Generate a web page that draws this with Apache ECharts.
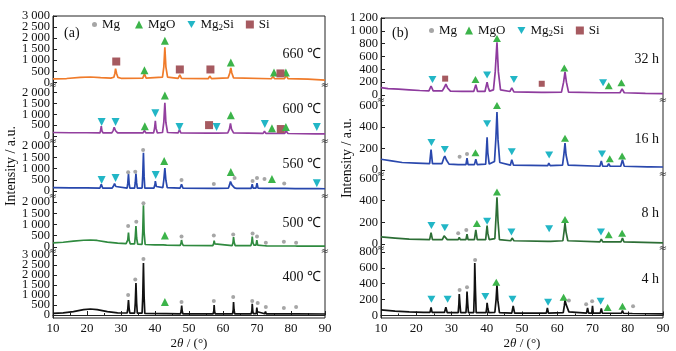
<!DOCTYPE html>
<html lang="en">
<head>
<meta charset="UTF-8" />
<title>XRD</title>
<script src="https://cdn.jsdelivr.net/npm/echarts@6/dist/echarts.min.js"></script>
</head>
<body style="margin:0">
<div id="main" style="width:676px;height:351px"></div>
<script>
// ---- data: [2theta, intensity] ----
// panel (a): temperatures
var p660 = [[10,150],[14,170],[18,220],[21,240],[24,210],[27,190],[27.9,230],[28.2,400],[28.4,620],[28.7,400],[29.1,220],[30,180],
  [36.4,190],[36.9,380],[37.4,190],[42.2,230],[42.6,700],[42.9,1580],[43.2,700],[43.7,230],[46.8,180],[47.3,330],[47.8,180],
  [55.7,170],[56.1,280],[56.6,170],[61.5,200],[62,420],[62.3,650],[62.6,420],[63.1,200],[74.2,160],[74.7,260],[75.2,160],
  [76.0,160],[76.4,230],[76.8,160],[78.1,170],[78.6,320],[79.1,170],[85,140],[90,100]];
var p600 = [[10,160],[15,150],[20,150],[23.8,140],[24.0,260],[24.2,450],[24.4,240],[24.7,140],[27.3,140],[27.7,250],[28.0,400],[28.4,240],[29.0,140],
  [36.5,140],[36.9,260],[37.3,140],[39.6,140],[39.9,380],[40.1,700],[40.3,360],[40.7,140],[42.2,160],[42.6,650],[42.9,1530],[43.2,620],[43.7,160],
  [46.8,140],[47.2,300],[47.6,140],[55.7,130],[56.1,180],[56.5,130],[57.6,130],[58.0,200],[58.4,130],[61.4,140],[61.9,330],[62.2,580],[62.5,320],[63.1,140],
  [71.8,120],[72.2,220],[72.6,120],[74.1,120],[74.5,170],[74.9,120],[76.1,115],[76.4,150],[76.7,115],[78.1,115],[78.6,230],[79.1,115],[87.2,100],[87.6,120],[88,100],[90,95]];
var p560 = [[10,150],[15,140],[20,140],[23.8,130],[24.2,300],[24.6,130],[27.4,130],[27.8,220],[28.1,330],[28.5,200],[29.0,130],
  [31.8,130],[32.0,350],[32.2,760],[32.4,330],[32.6,130],[34.0,130],[34.2,380],[34.4,780],[34.6,360],[34.8,130],
  [36.2,130],[36.4,700],[36.6,1700],[36.8,650],[37.0,130],[39.7,130],[40.0,300],[40.1,440],[40.4,200],[40.7,140],
  [42.3,150],[42.6,500],[42.9,1020],[43.2,480],[43.6,150],[47.4,130],[47.8,300],[48.2,130],[57.1,120],[57.4,200],[57.7,120],
  [61.6,130],[61.9,260],[62.2,420],[62.6,270],[63.1,330],[63.4,140],[64,120],[68.3,120],[68.6,300],[68.85,130],[69.7,130],[70.0,350],[70.3,130],
  [72.2,120],[72.5,200],[72.8,120],[74.2,120],[74.5,150],[74.8,115],[77.6,115],[77.9,160],[78.2,115],[81.2,110],[81.5,170],[81.8,110],
  [87.3,105],[87.6,130],[87.9,105],[90,100]];
var p500 = [[10,180],[13,210],[16,260],[19,300],[21,310],[23,290],[26,220],[29,170],[31.5,150],[31.8,150],[32.0,320],[32.2,640],[32.4,300],[32.7,140],
  [34.0,140],[34.2,450],[34.4,930],[34.6,400],[34.9,130],[36.2,120],[36.4,700],[36.6,1860],[36.8,650],[37.1,110],
  [40,90],[42.4,90],[42.9,130],[43.4,80],[47.4,70],[47.65,160],[47.8,310],[48.0,160],[48.3,70],[57.0,60],[57.25,150],[57.4,280],[57.6,140],[57.9,60],
  [62.7,60],[62.95,200],[63.1,440],[63.3,200],[63.6,60],[68.2,60],[68.45,210],[68.6,460],[68.8,200],[69.1,80],[69.7,80],[69.95,310],[70.2,80],
  [72.2,55],[72.5,130],[72.8,50],[77.6,45],[77.9,110],[78.2,45],[81.2,45],[81.5,100],[81.8,40],[90,40]];
var p400 = [[10,80],[13,110],[16,170],[19,270],[21,300],[23,270],[26,170],[29,110],[31,100],[31.8,100],[32.0,300],[32.2,750],[32.4,300],[32.6,90],
  [34.0,90],[34.2,600],[34.4,1600],[34.6,600],[34.8,90],[36.2,90],[36.4,900],[36.6,2600],[36.8,900],[37.0,80],
  [42.5,70],[42.9,120],[43.3,70],[47.5,60],[47.7,200],[47.85,470],[48.0,200],[48.2,60],[57.1,60],[57.3,200],[57.4,500],[57.5,200],[57.7,60],
  [62.8,60],[63.0,250],[63.1,650],[63.25,250],[63.45,60],[68.3,60],[68.5,220],[68.6,560],[68.75,220],[68.9,70],[69.8,70],[69.95,370],[70.1,160],[70.3,60],
  [72.3,60],[72.5,180],[72.7,60],[77.7,55],[77.9,90],[78.1,55],[81.3,55],[81.5,150],[81.7,55],[90,50]];
// panel (b): milling time
var p32h = [[10,115],[12,100],[15,90],[18,80],[21,70],[23.6,65],[24.2,140],[24.8,65],[27.4,65],[28.0,120],[28.4,170],[28.9,110],[29.7,60],
  [33,55],[36.3,55],[36.9,160],[37.4,55],[39.5,55],[39.8,130],[40.1,200],[40.4,120],[40.8,60],[41.9,80],[42.4,360],[42.9,820],[43.3,360],[43.9,80],
  [46.6,55],[47.1,110],[47.7,50],[55.5,40],[56.0,65],[56.5,40],[61.2,45],[61.8,200],[62.2,360],[62.6,200],[63.2,45],
  [72.0,35],[72.5,50],[73.0,35],[74.0,35],[74.5,60],[75.0,35],[77.8,35],[78.4,95],[79.0,35],[85,25],[90,20]];
var p16h = [[10,100],[13,85],[16,70],[20,65],[23.8,60],[24.2,190],[24.6,60],[27.3,60],[27.8,110],[28.1,130],[28.6,90],[29.3,55],
  [31.9,50],[32.2,65],[32.5,50],[34.1,50],[34.4,110],[34.7,50],[36.5,50],[36.9,100],[37.3,50],[39.7,55],[39.9,180],[40.1,305],[40.3,160],[40.7,55],
  [42.2,80],[42.6,300],[42.9,540],[43.2,280],[43.7,70],[46.7,45],[47.1,95],[47.6,45],[57.3,40],[57.6,65],[58,40],
  [61.5,45],[61.9,150],[62.2,250],[62.5,140],[63.1,45],[72.1,35],[72.5,85],[72.9,35],[74.2,35],[74.6,60],[75.0,35],
  [78.0,35],[78.5,95],[79.0,35],[85.6,30],[86,45],[86.4,30],[90,28]];
var p8h = [[10,65],[14,55],[18,45],[23.8,40],[24.2,105],[24.6,40],[27.4,40],[27.9,75],[28.3,80],[28.8,40],[31.9,40],[32.2,60],[32.5,40],
  [34.1,40],[34.4,90],[34.7,40],[36.5,40],[36.9,130],[37.3,40],[39.7,40],[39.9,110],[40.1,170],[40.3,100],[40.7,40],
  [42.3,50],[42.6,230],[42.9,430],[43.2,210],[43.6,40],[46.8,30],[47.2,55],[47.7,30],[57.3,25],[57.7,35],[58.1,25],
  [61.6,30],[61.95,120],[62.2,195],[62.5,110],[63.0,30],[72.1,20],[72.5,45],[72.9,20],[74.2,20],[74.5,30],[74.9,20],
  [78.1,20],[78.5,55],[78.9,20],[90,10]];
var p4h = [[10,70],[14,55],[18,45],[22,40],[23.9,38],[24.2,100],[24.5,38],[28.0,38],[28.4,105],[28.8,35],
  [31.9,35],[32.1,150],[32.2,270],[32.4,140],[32.6,35],[34.1,35],[34.3,160],[34.4,300],[34.6,150],[34.8,35],
  [36.3,35],[36.5,330],[36.6,660],[36.8,310],[37.0,35],[39.8,35],[40.0,100],[40.1,160],[40.3,90],[40.6,35],
  [42.3,40],[42.65,200],[42.9,385],[43.15,190],[43.6,35],[47.1,30],[47.5,120],[47.9,30],[56.9,30],[57.2,95],[57.5,30],
  [61.7,35],[62.0,120],[62.2,195],[62.5,140],[63.0,130],[63.3,45],[63.8,30],[68.3,30],[68.6,95],[68.9,30],[69.8,30],[70.0,120],[70.2,30],
  [72.2,30],[72.5,90],[72.8,30],[74.2,28],[74.5,50],[74.8,28],[78.2,28],[78.5,60],[78.8,28],[81.3,25],[81.5,35],[81.7,25],[90,20]];

// phase markers
var mgo660 = [[36.9,540],[42.9,1880],[62.3,900],[75,440],[78.5,440]];
var si660 = [[28.6,940],[47.3,580],[56.3,580],[76.9,400]];
var mg2si600 = [[24.3,640],[28.4,640],[40.1,1050],[47.2,410],[58.1,410],[72.3,550],[87.6,410]];
var mgo600 = [[37,450],[42.9,1860],[62.3,950],[74.4,360],[78.5,410]];
var si600 = [[55.9,500],[77,320]];
var mg2si560 = [[24.3,490],[28.4,580],[40.2,710],[87.6,350]];
var mg560 = [[32.1,830],[34.2,860],[36.5,1820],[47.8,490],[57.3,310],[63.4,580],[68.7,440],[70,580],[72.2,530],[78,330]];
var mgo560 = [[42.7,1330],[62.3,840],[74.4,530]];
var mg500 = [[32.1,930],[34.5,1120],[36.6,1950],[47.8,470],[57.3,510],[63,560],[68.7,600],[70,470],[72.6,190],[77.9,230],[81.5,190]];
var mgo500 = [[42.9,510]];
var mg400 = [[32.1,1000],[34.2,1780],[36.6,2800],[47.8,650],[57.3,700],[63,900],[68.6,700],[70.2,600],[72.6,400],[77.9,350],[81.5,400]];
var mgo400 = [[42.9,650]];

var mg2si32 = [[24.6,240],[40.1,310],[47.7,240],[73,190]];
var si32 = [[28.2,255],[55.6,175]];
var mgo32 = [[36.8,240],[42.9,880],[62,420],[74.6,145],[78.2,190]];
var mg2si16 = [[24.3,257],[28.1,190],[40.1,430],[47.1,170],[57.7,140],[72.7,150]];
var mg16 = [[32.3,124],[34.4,150]];
var mgo16 = [[36.8,160],[42.9,600],[62.2,295],[74.9,105],[78.4,130]];
var mg2si8 = [[24.3,170],[28.1,150],[40.1,210],[47,110],[57.7,140],[72.4,110]];
var mg8 = [[31.9,100],[34.2,130]];
var mgo8 = [[37.2,190],[42.9,480],[62.2,225],[74.6,85],[78.4,100]];
var mg2si4 = [[24.3,205],[28.9,205],[39.6,240],[47.3,205],[57.4,165],[72.3,180]];
var mg4 = [[32.3,320],[34.4,355],[36.7,700],[63.3,190],[68.2,140],[69.9,180],[81.5,115]];
var mgo4 = [[42.7,420],[61.8,230],[74.3,100],[78.5,115]];

var ticksA3000 = [0,500,1000,1500,2000,2500,3000];
var ticksA2000 = [0,500,1000,1500,2000];
var ticksB1200 = [0,200,400,600,800,1000,1200];
var ticksB600 = [0,200,400,600];
var ticksB800 = [0,200,400,600,800];
var tempLabels = ['660 ℃','600 ℃','560 ℃','500 ℃','400 ℃'];
var timeLabels = ['32 h','16 h','8 h','4 h'];

var FONT = 'Liberation Serif, Times New Roman, serif';
var phaseColor = {Mg:'#a6a6a6', MgO:'#3cb44a', Mg2Si:'#22b6c6', Si:'#a65a60'};
var phaseSymbol = {Mg:'circle', MgO:'triangle', Mg2Si:'path://M0,0L10,0L5,8.6Z', Si:'rect'};

// layout of each stacked sub plot
var plots = [
  {left:53, width:272, top:16, height:69, min:-123, max:3000, ticks:ticksA3000, text:tempLabels[0], ty:55, line:p660, color:'#f07b2a', marks:{MgO:mgo660, Si:si660}, big:true},
  {left:53, width:272, top:85, height:56, min:-230, max:2345, ticks:ticksA2000, text:tempLabels[1], ty:110, line:p600, color:'#93409f', marks:{Si:si600, Mg2Si:mg2si600, MgO:mgo600}, big:true},
  {left:53, width:272, top:141, height:55, min:-222, max:2222, ticks:ticksA2000, text:tempLabels[2], ty:165, line:p560, color:'#2747ad', marks:{Mg:mg560, Mg2Si:mg2si560, MgO:mgo560}, big:true},
  {left:53, width:272, top:196, height:55, min:-178, max:2267, ticks:ticksA2000, text:tempLabels[3], ty:224, line:p500, color:'#2f8a3f', marks:{Mg:mg500, MgO:mgo500}, big:true},
  {left:53, width:272, top:251, height:67, min:-150, max:3200, ticks:ticksA3000, text:tempLabels[4], ty:278, line:p400, color:'#111111', marks:{Mg:mg400, MgO:mgo400}, big:true, bottom:true},
  {left:381, width:282, top:18, height:82, min:-78, max:1200, ticks:ticksB1200, text:timeLabels[0], ty:60, line:p32h, color:'#8e3b9e', marks:{Si:si32, Mg2Si:mg2si32, MgO:mgo32}},
  {left:381, width:282, top:100, height:74, min:-37, max:651, ticks:ticksB600, text:timeLabels[1], ty:140, line:p16h, color:'#2a48ad', marks:{Mg:mg16, Mg2Si:mg2si16, MgO:mgo16}},
  {left:381, width:282, top:174, height:74, min:-37, max:646, ticks:ticksB600, text:timeLabels[2], ty:214, line:p8h, color:'#2c6e35', marks:{Mg:mg8, Mg2Si:mg2si8, MgO:mgo8}},
  {left:381, width:282, top:248, height:70, min:-32, max:850, ticks:ticksB800, text:timeLabels[3], ty:280, line:p4h, color:'#111111', marks:{Mg:mg4, Mg2Si:mg2si4, MgO:mgo4}, bottom:true}
];

function fmtNum(v) {
  if (v >= 1000) return Math.floor(v / 1000) + ' ' + String(v % 1000).padStart(3, '0');
  return String(v);
}

// the tick labels are packed tighter than echarts likes, so each grid gets two
// overlaid y axes: one carries the even ticks, the other the odd ones
function yAxisFor(i, p, vals, main) {
  return {
    gridIndex:i, type:'value', min:p.min, max:p.max, position:'left',
    axisLine:{show:main, lineStyle:{color:'#222', width:1}},
    axisTick:{show:true, inside:true, length:4, customValues:vals, lineStyle:{color:'#222'}},
    axisLabel:{customValues:vals, formatter:fmtNum, fontFamily:FONT, fontSize:12.5, color:'#111', margin:3,
      showMinLabel:true, showMaxLabel:true},
    splitLine:{show:false}
  };
}

var grids = [], xAxes = [], yAxes = [], series = [], graphics = [];
plots.forEach(function (p, i) {
  grids.push({left:p.left, width:p.width, top:p.top, height:p.height});
  xAxes.push({
    gridIndex:i, type:'value', min:10, max:90, interval:10, show:!!p.bottom,
    axisLine:{lineStyle:{color:'#222', width:1}},
    axisTick:{inside:true, length:4, lineStyle:{color:'#222'}},
    minorTick:{show:true, splitNumber:2, length:2, lineStyle:{color:'#222'}},
    splitLine:{show:false},
    axisLabel:{fontFamily:FONT, fontSize:13, color:'#111', margin:4},
    name:'{n|2}{i|θ}{n| / (°)}', nameLocation:'middle', nameGap:19,
    nameTextStyle:{rich:{n:{fontFamily:FONT, fontSize:13, color:'#111'}, i:{fontFamily:FONT, fontSize:13, fontStyle:'italic', color:'#111'}}}
  });
  var even = p.ticks.filter(function (v, k) { return k % 2 === 0; });
  var odd = p.ticks.filter(function (v, k) { return k % 2 === 1; });
  var yIdx = yAxes.length;
  yAxes.push(yAxisFor(i, p, even, true));
  yAxes.push(yAxisFor(i, p, odd, false));
  series.push({
    type:'line', xAxisIndex:i, yAxisIndex:yIdx, data:p.line, symbol:'none', silent:true,
    lineStyle:{color:p.color, width:1.7}, z:2
  });
  Object.keys(p.marks).forEach(function (ph) {
    var size;
    if (ph === 'Mg') size = 4;
    else if (ph === 'Si') size = p.big ? 8 : 6;
    else size = p.big ? [8, 8] : [8, 7];
    series.push({
      type:'scatter', name:ph, xAxisIndex:i, yAxisIndex:yIdx, data:p.marks[ph],
      symbol:phaseSymbol[ph], symbolSize:size, itemStyle:{color:phaseColor[ph], opacity:1}, z:3, silent:true
    });
  });
  var right = p.left + p.width;
  graphics.push({type:'text', right:676 - right + 4, top:p.ty - 8,
    style:{text:p.text, font:'14px ' + FONT, fill:'#111'}});
  if (!p.bottom) {
    var yb = p.top + p.height;
    [p.left, right].forEach(function (x) {
      graphics.push({type:'text', x:x, y:yb, z:10,
        style:{text:'≈', font:'10px DejaVu Sans', fill:'#333', align:'center', verticalAlign:'middle'}});
    });
  }
});

// panel frames
graphics.push({type:'rect', shape:{x:53, y:16, width:272, height:302}, style:{fill:'none', stroke:'#222', lineWidth:1}, silent:true});
graphics.push({type:'rect', shape:{x:381, y:18, width:282, height:300}, style:{fill:'none', stroke:'#222', lineWidth:1}, silent:true});
graphics.push({type:'text', x:64, y:26, style:{text:'(a)', font:'14px ' + FONT, fill:'#111'}});
graphics.push({type:'text', x:392, y:26, style:{text:'(b)', font:'14px ' + FONT, fill:'#111'}});
graphics.push({type:'text', x:11, y:166, rotation:Math.PI / 2,
  style:{text:'Intensity / a.u.', font:'14px ' + FONT, fill:'#111', align:'center', verticalAlign:'middle'}});
graphics.push({type:'text', x:347, y:158, rotation:Math.PI / 2,
  style:{text:'Intensity / a.u.', font:'14px ' + FONT, fill:'#111', align:'center', verticalAlign:'middle'}});

var legendText = {
  fontFamily:FONT, fontSize:13, color:'#111',
  rich:{a:{fontFamily:FONT, fontSize:13, color:'#111'}, s:{fontFamily:FONT, fontSize:9, color:'#111', padding:[7, 0, 0, 0]}}
};
function legendFmt(name) {
  return name === 'Mg2Si' ? '{a|Mg}{s|2}{a|Si}' : '{a|' + name + '}';
}
function legendItems(names) {
  return names.map(function (n) { return {name:n, icon:phaseSymbol[n], itemStyle:{color:phaseColor[n]}}; });
}
var legends = [
  {left:92, top:18, data:legendItems(['Mg']), itemWidth:5, itemHeight:5, formatter:legendFmt, textStyle:legendText, selectedMode:false, padding:0},
  {left:135, top:18, data:legendItems(['MgO','Mg2Si','Si']), itemWidth:8, itemHeight:8, itemGap:12, formatter:legendFmt, textStyle:legendText, selectedMode:false, padding:0},
  {left:429, top:24, data:legendItems(['Mg']), itemWidth:5, itemHeight:5, formatter:legendFmt, textStyle:legendText, selectedMode:false, padding:0},
  {left:465, top:24, data:legendItems(['MgO','Mg2Si','Si']), itemWidth:8, itemHeight:8, itemGap:12, formatter:legendFmt, textStyle:legendText, selectedMode:false, padding:0}
];

var chart = echarts.init(document.getElementById('main'));
chart.setOption({
  animation:false,
  backgroundColor:'#fff',
  grid:grids, xAxis:xAxes, yAxis:yAxes, series:series,
  legend:legends, graphic:graphics
});
</script>
</body>
</html>
